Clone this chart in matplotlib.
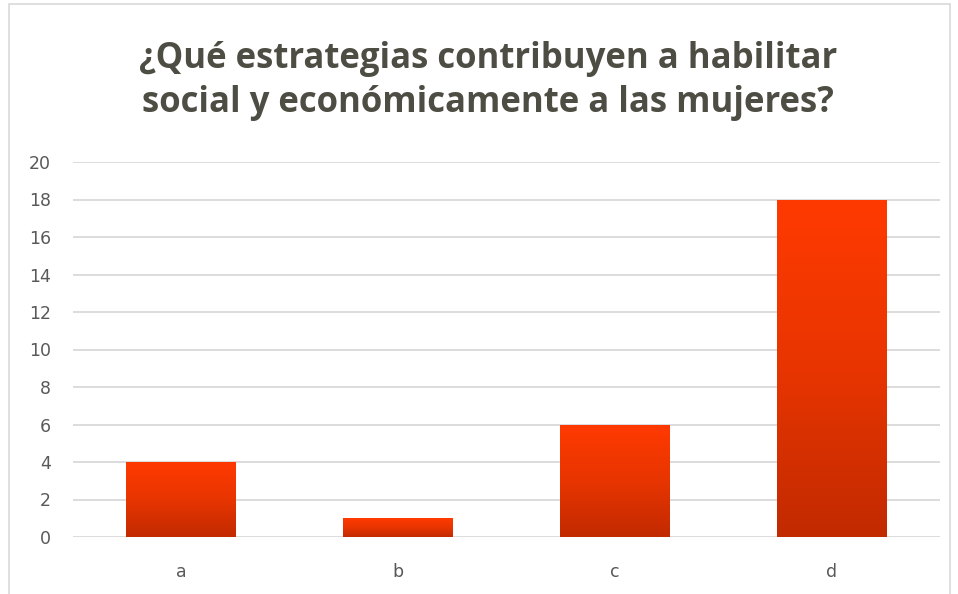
import numpy as np
import matplotlib
matplotlib.use("Agg")
import matplotlib.pyplot as plt
from matplotlib.colors import LinearSegmentedColormap
from matplotlib.patches import Rectangle

categories = ["a", "b", "c", "d"]
values = [4, 1, 6, 18]
yticks = [0, 2, 4, 6, 8, 10, 12, 14, 16, 18, 20]
title = "¿Qué estrategias contribuyen a habilitar\nsocial y económicamente a las mujeres?"

text_color = "#595959"
grid_color = "#D9D9D9"
grad = LinearSegmentedColormap.from_list("bar", ["#C22A00", "#E83500", "#FF3A00"])

fig = plt.figure(figsize=(9.58, 5.94), dpi=100)
fig.patch.set_facecolor("white")

# outer chart frame
fig.add_artist(Rectangle((9 / 958, -0.01), 941 / 958, 1 - 4 / 594 + 0.01,
                         transform=fig.transFigure, fill=False,
                         edgecolor="#D9D9D9", linewidth=1.2))

ax = fig.add_axes([73 / 958, 1 - 537 / 594, (940 - 73) / 958, (537 - 162) / 594])
x = np.arange(len(categories))
bars = ax.bar(x, values, width=0.507, color="none", zorder=3)

# vertical gradient inside each bar
g = np.linspace(0, 1, 256).reshape(-1, 1)
for b in bars:
    x0, y0 = b.get_x(), b.get_y()
    w, h = b.get_width(), b.get_height()
    im = ax.imshow(g, cmap=grad, origin="lower", aspect="auto",
                   extent=[x0, x0 + w, y0, y0 + h], zorder=3)
    im.set_clip_path(b)

ax.set_xlim(-0.5, len(categories) - 0.5)
ax.set_ylim(0, 20)
ax.set_yticks(yticks)
ax.set_xticks(x)
ax.set_xticklabels(categories)
ax.yaxis.grid(True, color=grid_color, linewidth=1.3, zorder=0)
ax.set_axisbelow(True)
for s in ax.spines.values():
    s.set_visible(False)
ax.tick_params(length=0, colors=text_color, labelsize=12.5)
ax.tick_params(axis="y", pad=16)
ax.tick_params(axis="x", pad=19)

fig.text(488 / 958, 1 - 81 / 594, title, ha="center", va="center",
         fontsize=25, fontweight="bold", color="#4D4D44",
         family="Open Sans", linespacing=1.3)

fig.savefig("out.png", dpi=100, facecolor="white")
